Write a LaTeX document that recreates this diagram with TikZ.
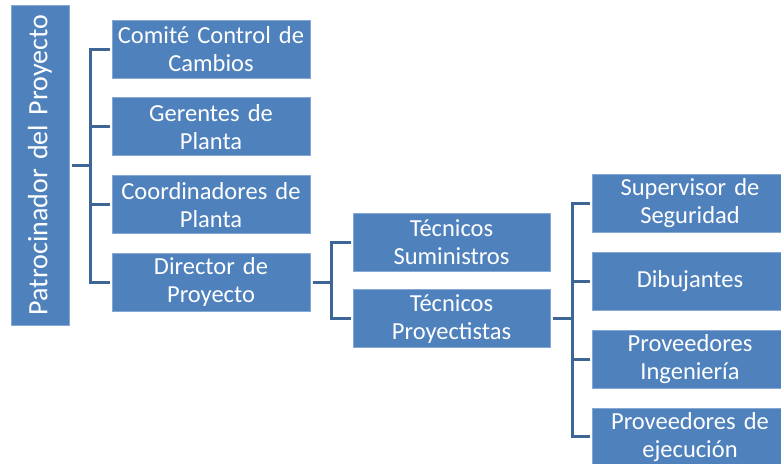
\documentclass[tikz,border=0pt]{standalone}
\usepackage{fontspec}
\setmainfont{Carlito}
\usetikzlibrary{positioning}

\definecolor{boxblue}{HTML}{4F81BD}
\definecolor{boxedge}{HTML}{86A8D4}
\definecolor{linkblue}{HTML}{3D6696}

\tikzset{
  unit/.style={draw=boxedge, fill=boxblue, text=white, line width=0.8pt,
    minimum width=198pt, minimum height=58pt, text width=196pt, align=center,
    inner sep=0pt, font=\fontsize{24.5}{28}\selectfont},
  link/.style={draw=linkblue, line width=3pt, shorten >=2pt, shorten <=3pt},
}

\begin{document}
\begin{tikzpicture}[x=1pt,y=-1pt, node distance=19pt]
\useasboundingbox (0,0) rectangle (781,463);
\clip (0,0) rectangle (781,463);

% sponsor
\node[unit, minimum width=58pt, minimum height=320pt, text width=58pt,
  font=\fontsize{28}{32}\selectfont] (spon) at (40,165)
  {\rotatebox{90}{Patrocinador del Proyecto}};

% first level
\node[unit] (comite) at (211,49) {Comité Control de\\Cambios};
\node[unit, below=of comite] (gerentes) {Gerentes de\\Planta};
\node[unit, below=of gerentes] (coord) {Coordinadores de\\Planta};
\node[unit, below=of coord] (director) {Director de\\Proyecto};

% second level
\node[unit, minimum width=197pt] (tsum) at (451.5,242) {Técnicos\\Suministros};
\node[unit, minimum width=197pt, below=18pt of tsum] (tproy) {Técnicos\\Proyectistas};

% third level
\node[unit, minimum width=194pt] (superv) at (690,203.5) {Supervisor de\\Seguridad};
\node[unit, minimum width=194pt, below=of superv] (dibuj) {Dibujantes};
\node[unit, minimum width=194pt, below=of dibuj] (proving) {Proveedores\\Ingeniería};
\node[unit, minimum width=194pt, below=of proving] (provej) {Proveedores de\\ejecución};

% connectors
\foreach \kid in {comite,gerentes,coord,director}
  \draw[link] (spon.east) -- ++(21,0) |- (\kid.west);
\foreach \kid in {tsum,tproy}
  \draw[link] (director.east) -- ++(21,0) |- (\kid.west);
\foreach \kid in {superv,dibuj,proving,provej}
  \draw[link] (tproy.east) -- ++(22,0) |- (\kid.west);
\end{tikzpicture}
\end{document}
